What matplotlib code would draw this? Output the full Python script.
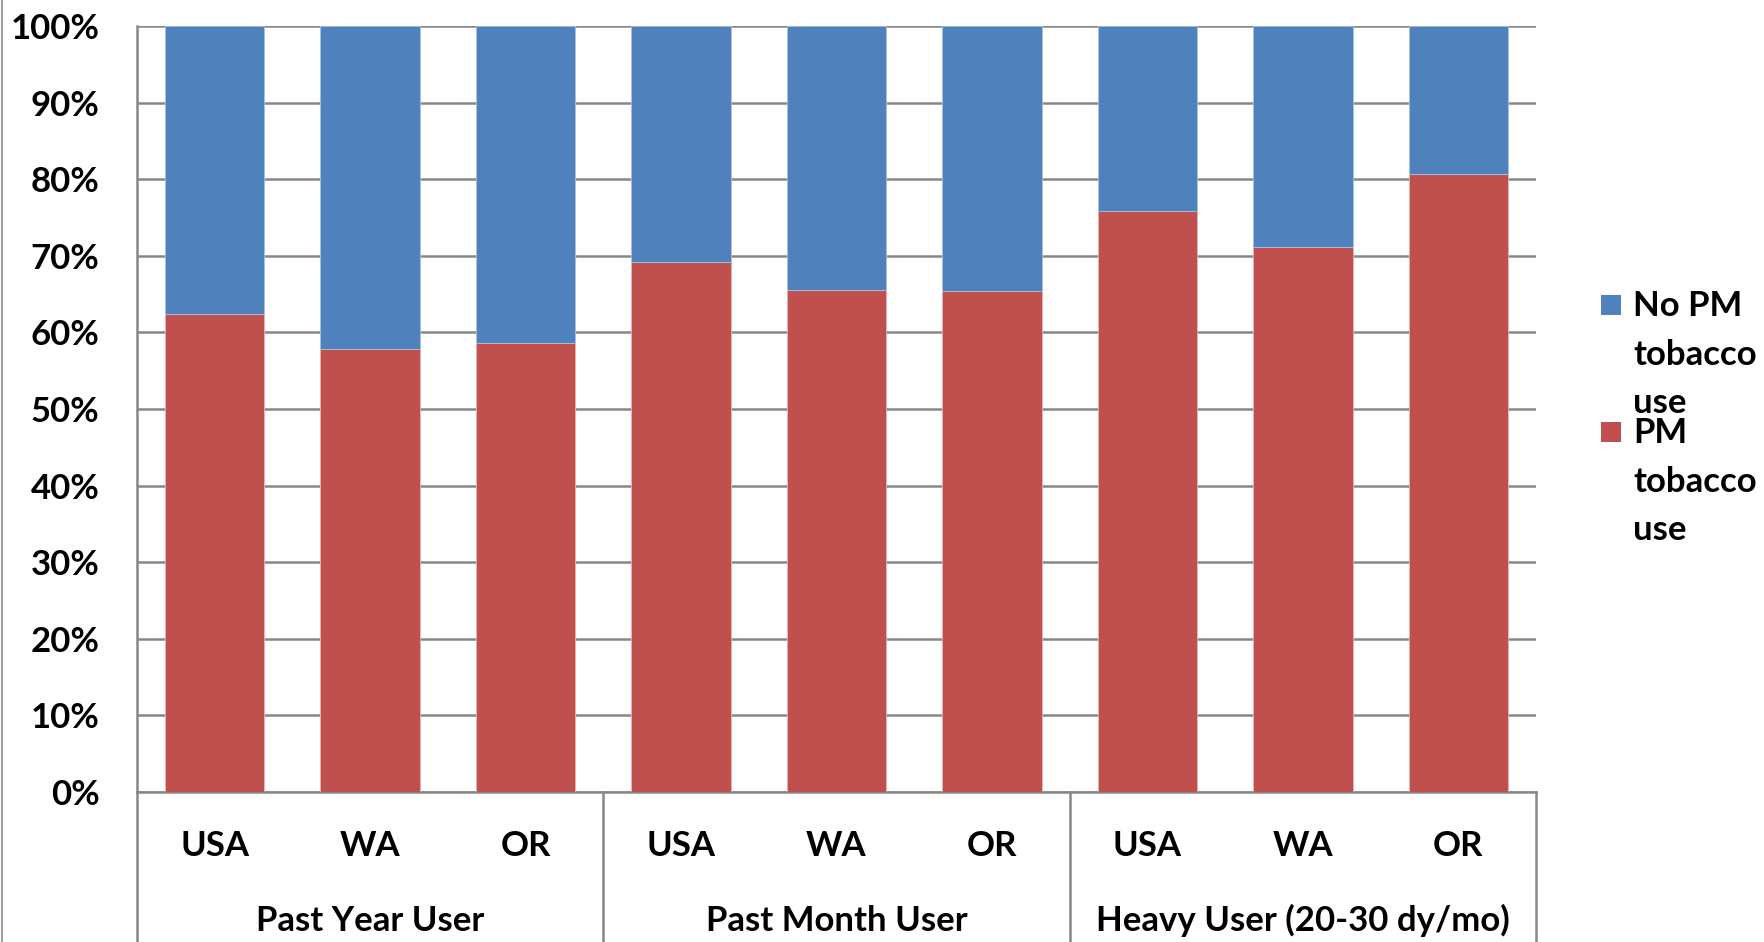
import numpy as np
import matplotlib
matplotlib.use("Agg")
import matplotlib.pyplot as plt
from matplotlib.patches import Rectangle
from matplotlib.lines import Line2D
from matplotlib.ticker import PercentFormatter

# data (share of users, %)
states = ["USA", "WA", "OR"]
groups = ["Past Year User", "Past Month User", "Heavy User (20-30 dy/mo)"]
pm_use = [62.4, 57.8, 58.6, 69.2, 65.5, 65.4, 75.8, 71.1, 80.7]
no_pm_use = [100 - v for v in pm_use]
legend_labels = ["No PM\ntobacco\nuse", "PM\ntobacco\nuse"]

blue = "#4F81BD"
red = "#C0504D"
grid_col = "#888888"

plt.rcParams["font.family"] = ["Lato", "DejaVu Sans"]
plt.rcParams["font.weight"] = "bold"

W, H = 1764, 942
fig = plt.figure(figsize=(W / 100, H / 100), dpi=100)
ax = fig.add_axes([137 / W, 1 - 792 / H, (1536 - 137) / W, (792 - 26) / H])

x = np.arange(len(pm_use))
ax.bar(x, pm_use, width=0.64, color=red, edgecolor="#e6b3b2", linewidth=0.6, zorder=3)
ax.bar(x, no_pm_use, bottom=pm_use, width=0.64, color=blue, edgecolor="#a9c1e0", linewidth=0.6, zorder=3)

ax.set_xlim(-0.5, len(pm_use) - 0.5)
ax.set_ylim(0, 100)
ax.set_yticks(np.arange(0, 101, 10))
ax.yaxis.set_major_formatter(PercentFormatter(decimals=0))
ax.tick_params(axis="y", length=0, pad=27, labelsize=25)
ax.set_xticks([])
ax.yaxis.grid(True, color=grid_col, linewidth=1.8)
ax.set_axisbelow(True)
for s in ["top", "right"]:
    ax.spines[s].set_visible(False)
for s in ["left", "bottom"]:
    ax.spines[s].set_color(grid_col)
    ax.spines[s].set_linewidth(1.8)
for lab in ax.get_yticklabels():
    lab.set_fontweight("bold")

# two-level category axis
trans = ax.get_xaxis_transform()
for i in x:
    ax.text(i, -0.071, states[i % 3], transform=trans, ha="center", va="center",
            fontsize=25, fontweight="bold")
for g, name in enumerate(groups):
    ax.text(3 * g + 1, -0.168, name, transform=trans, ha="center", va="center",
            fontsize=25, fontweight="bold")
for b in np.arange(-0.5, len(pm_use), 3):
    ax.plot([b, b], [0, -0.2], transform=trans, color=grid_col, linewidth=1.8, clip_on=False)

# chart area border on the left
fig.add_artist(Line2D([1.5 / W, 1.5 / W], [0, 1], color="#a0a0a0", linewidth=1.5))

# legend, drawn like Excel's (marker aligned with first line)
for k, (lab, col, top) in enumerate(zip(legend_labels, [blue, red], [295, 422])):
    fig.add_artist(Rectangle((1601 / W, 1 - (top + 20) / H), 20 / W, 20 / H,
                             facecolor=col, edgecolor="none"))
    fig.text(1633 / W, 1 - (top - 5) / H, lab, ha="left", va="top", fontsize=25,
             fontweight="bold", linespacing=1.64)

fig.savefig("out.png", dpi=100)
